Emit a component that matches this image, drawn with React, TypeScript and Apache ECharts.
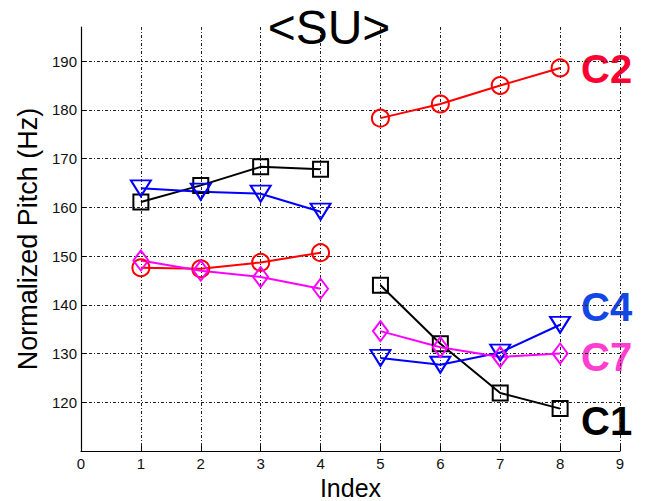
import React, { useEffect, useRef } from "react";
import * as echarts from "echarts";

// Index positions (first phrase 1-4, second phrase 5-8)
const idxA = [1, 2, 3, 4];
const idxB = [5, 6, 7, 8];

// Normalized pitch (Hz) per tone class
const c1A = [161.1, 164.5, 168.3, 167.8];
const c1B = [144.0, 132.0, 121.9, 118.7];
const c2A = [147.6, 147.4, 148.7, 150.7];
const c2B = [178.3, 181.2, 185.0, 188.6];
const c4A = [163.9, 163.2, 162.8, 159.1];
const c4B = [129.1, 127.7, 130.2, 135.9];
const c7A = [149.1, 147.0, 145.7, 143.3];
const c7B = [134.6, 131.3, 129.3, 130.0];

const yTicks = [120, 130, 140, 150, 160, 170, 180, 190];
const xTicks = [0, 1, 2, 3, 4, 5, 6, 7, 8, 9];

const FONT = "Liberation Sans, Arial, Helvetica, sans-serif";

function pairs(xs: number[], ys: number[]) {
  return xs.map((x, i) => [x, ys[i]]);
}

function lineSeries(
  name: string,
  xs: number[],
  ys: number[],
  color: string,
  symbol: string,
  symbolSize: number | number[],
  symbolRotate = 0
) {
  return {
    name,
    type: "line",
    data: pairs(xs, ys),
    symbol,
    symbolSize,
    symbolRotate,
    showAllSymbol: true,
    lineStyle: { color, width: 2 },
    itemStyle: { color: "rgba(0,0,0,0)", borderColor: color, borderWidth: 2 },
    z: 3,
  };
}

export default function App() {
  const ref = useRef<HTMLDivElement>(null);

  useEffect(() => {
    if (!ref.current) return;
    const chart = echarts.init(ref.current, null, { renderer: "svg" });
    const grid = { color: "#222", width: 1, type: [3, 2, 1, 2] };
    chart.setOption({
      animation: false,
      backgroundColor: "#ffffff",
      grid: {
        left: 81,
        right: 28,
        top: 27,
        bottom: 50,
        containLabel: false,
        outerBoundsMode: "none",
      },
      xAxis: {
        type: "value",
        min: 0,
        max: 9,
        interval: 1,
        name: "Index",
        nameLocation: "middle",
        nameGap: 21,
        nameTextStyle: { fontFamily: FONT, fontSize: 25, lineHeight: 25, color: "#000" },
        axisLine: { show: true, onZero: false, lineStyle: { color: "#000", width: 1.2 } },
        axisTick: { show: true, inside: true, length: 5, lineStyle: { color: "#000" } },
        axisLabel: {
          fontFamily: FONT,
          fontSize: 15,
          color: "#111",
          margin: 5,
          customValues: xTicks,
        },
        splitLine: { show: true, showMinLine: false, lineStyle: grid },
      },
      yAxis: {
        type: "value",
        min: 110,
        max: 197,
        name: "Normalized Pitch (Hz)",
        nameLocation: "middle",
        nameGap: 31,
        nameTextStyle: { fontFamily: FONT, fontSize: 27, color: "#000" },
        axisLine: { show: true, onZero: false, lineStyle: { color: "#000", width: 1.2 } },
        axisTick: {
          show: true,
          inside: true,
          length: 5,
          lineStyle: { color: "#000" },
          customValues: yTicks,
        },
        axisLabel: {
          fontFamily: FONT,
          fontSize: 15,
          color: "#111",
          margin: 4,
          customValues: yTicks,
        },
        splitLine: { show: true, lineStyle: grid },
      },
      series: [
        lineSeries("C1", idxA, c1A, "#000000", "rect", 15),
        lineSeries("C1", idxB, c1B, "#000000", "rect", 15),
        lineSeries("C2", idxA, c2A, "#ff0000", "circle", 17),
        lineSeries("C2", idxB, c2B, "#ff0000", "circle", 17),
        lineSeries("C4", idxA, c4A, "#0000ff", "triangle", [20, 16], 180),
        lineSeries("C4", idxB, c4B, "#0000ff", "triangle", [20, 16], 180),
        lineSeries("C7", idxA, c7A, "#ff00ff", "diamond", [15, 20]),
        lineSeries("C7", idxB, c7B, "#ff00ff", "diamond", [15, 20]),
      ],
      graphic: [
        {
          type: "text",
          x: 329,
          y: 3,
          style: {
            text: "<SU>",
            fontFamily: FONT,
            fontSize: 48,
            fill: "#000",
            textAlign: "center",
            textVerticalAlign: "top",
          },
          z: 10,
        },
        {
          type: "text",
          x: 581,
          y: 69,
          style: { text: "C2", fontFamily: FONT, fontSize: 40, fontWeight: "bold", fill: "#ff0033", textVerticalAlign: "middle" },
        },
        {
          type: "text",
          x: 581,
          y: 307,
          style: { text: "C4", fontFamily: FONT, fontSize: 40, fontWeight: "bold", fill: "#1446e6", textVerticalAlign: "middle" },
        },
        {
          type: "text",
          x: 581,
          y: 357,
          style: { text: "C7", fontFamily: FONT, fontSize: 40, fontWeight: "bold", fill: "#ff3dce", textVerticalAlign: "middle" },
        },
        {
          type: "text",
          x: 581,
          y: 421,
          style: { text: "C1", fontFamily: FONT, fontSize: 40, fontWeight: "bold", fill: "#000000", textVerticalAlign: "middle" },
        },
      ],
    });
    return () => chart.dispose();
  }, []);

  return <div ref={ref} style={{ width: 648, height: 501, position: "absolute", left: 0, top: 0 }} />;
}
